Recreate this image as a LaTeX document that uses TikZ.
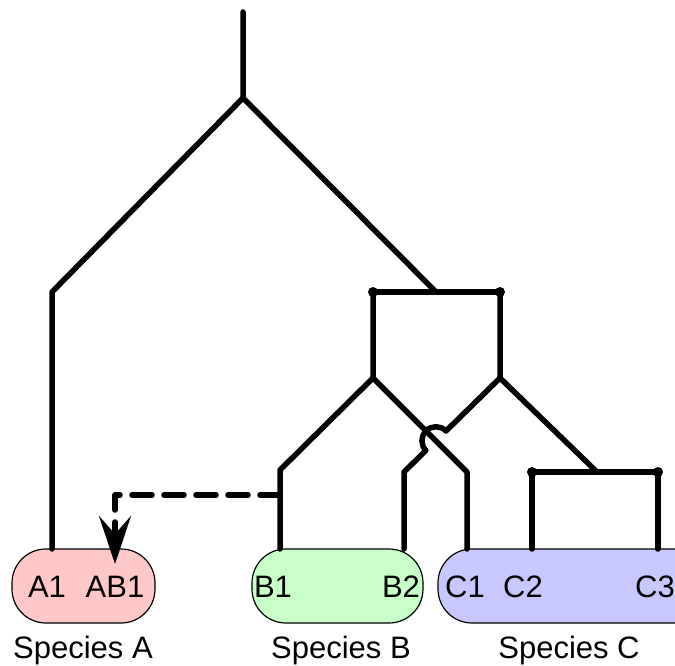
\documentclass[tikz,border=0pt]{standalone}
\usepackage{fontspec}
\setmainfont{Liberation Sans}
\usetikzlibrary{arrows.meta}

\definecolor{pinkA}{RGB}{255,200,200}
\definecolor{greenB}{RGB}{200,255,200}
\definecolor{blueC}{RGB}{200,200,255}

\tikzset{
  branch/.style={line width=5.5pt, line cap=round, line join=round},
  gene/.style={draw, line width=1.2pt, rounded corners=34pt},
  leaf/.style={inner sep=0pt, anchor=base, font=\fontsize{31}{36}\selectfont},
  knot/.style={circle, fill, inner sep=0pt, minimum size=10pt},
}

\begin{document}
\begin{tikzpicture}[x=1pt, y=1pt]
\useasboundingbox (0,0) rectangle (675,-666);

% species blobs
\draw[gene, fill=pinkA]  (12,-549) rectangle (155,-623);
\draw[gene, fill=greenB] (252,-549) rectangle (423,-623);
\draw[gene, fill=blueC]  (438,-549) rectangle (712,-623);

\node[leaf] (A1)  at (47,-597)  {A1};
\node[leaf] (AB1) at (115,-597) {AB1};
\node[leaf] (B1)  at (273,-597) {B1};
\node[leaf] (B2)  at (401,-597) {B2};
\node[leaf] (C1)  at (465,-597) {C1};
\node[leaf] (C2)  at (523,-597) {C2};
\node[leaf] (C3)  at (655,-597) {C3};

\node[leaf] (spA) at (83,-658)  {Species A};
\node[leaf] (spB) at (341,-658) {Species B};
\node[leaf] (spC) at (569,-658) {Species C};

% tree
\coordinate (top) at (243,-12);
\coordinate (r)   at (243,-98);
\coordinate (a)   at (52,-292);
\coordinate (x)   at (436,-292);
\coordinate (xl)  at (373,-292);
\coordinate (xr)  at (500,-292);
\coordinate (bl)  at (373,-378);
\coordinate (br)  at (500,-378);
\coordinate (jb1) at (280,-470);
\coordinate (jc1) at (467,-472);
\coordinate (jb2) at (404,-472);
\coordinate (jc)  at (597,-472);
\coordinate (cl)  at (532,-472);
\coordinate (cr)  at (658,-472);
\coordinate (hopA) at (446,-431);
\coordinate (gx)  at (280,-495);

\coordinate (tA1) at (52,-549);
\coordinate (tAB1) at (115,-564);
\coordinate (tB1) at (280,-549);
\coordinate (tB2) at (404,-549);
\coordinate (tC1) at (467,-549);
\coordinate (tC2) at (532,-549);
\coordinate (tC3) at (658,-549);

\draw[branch] (top) -- (r) -- (a) -- (tA1);
\draw[branch] (r) -- (x);
\draw[branch] (xl) -- (xr);
\draw[branch] (xl) -- (bl) -- (jb1) -- (tB1);
\draw[branch] (bl) -- (jc1) -- (tC1);
\draw[branch] (xr) -- (br) -- (jc);
\draw[branch] (br) -- (hopA) arc[start angle=44, end angle=224, radius=14pt] -- (jb2) -- (tB2);
\draw[branch] (cl) -- (cr);
\draw[branch] (cl) -- (tC2);
\draw[branch] (cr) -- (tC3);

\node[knot] (kxl) at (xl) {};
\node[knot] (kxr) at (xr) {};
\node[knot] (kcl) at (cl) {};
\node[knot] (kcr) at (cr) {};

% gene transfer
\draw[branch, dash pattern=on 20pt off 12pt,
  -{Stealth[length=48pt, width=32pt, inset=18pt]}] (gx) -| (tAB1);

\end{tikzpicture}
\end{document}
